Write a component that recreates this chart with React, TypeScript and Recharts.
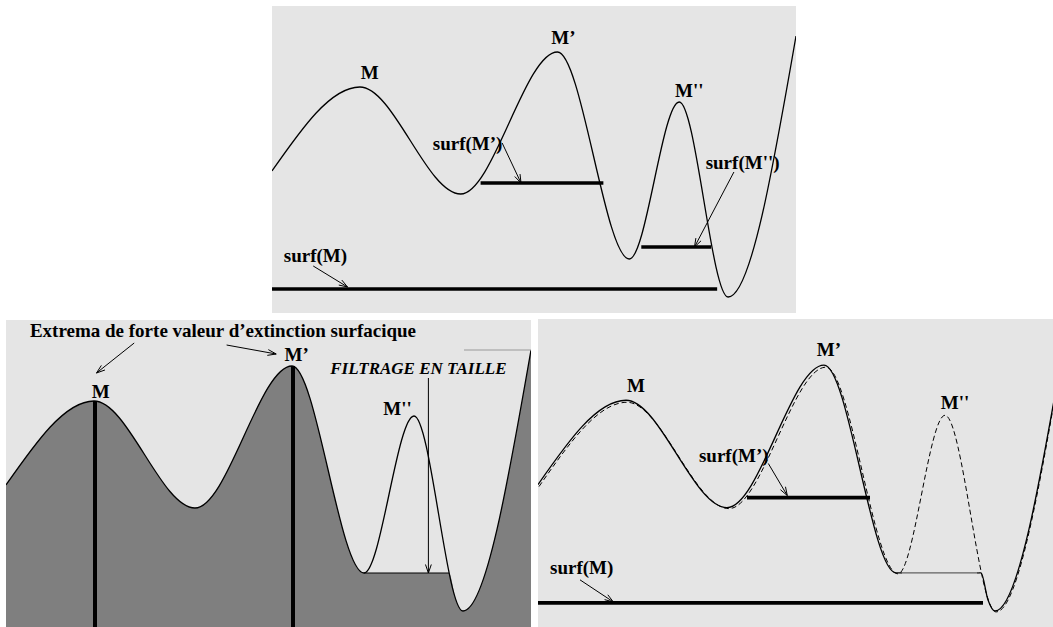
import {
  Area,
  ComposedChart,
  Line,
  ReferenceDot,
  ReferenceLine,
  XAxis,
  YAxis,
} from "recharts";

// profile: position along the line, level (0 = bottom of panel)
const crestPos = [0, 88, 189, 286, 358, 408, 457, 525];
const crestLevel = [142, 226, 119, 261, 54, 211, 16, 277];

// same profile after the size filtering: M'' is flattened at surf level
const filteredPos = [0, 88, 189, 286, 358, 443, 450, 457, 525];
const filteredLevel = [142, 226, 119, 261, 54, 54, 27, 16, 277];

// original profile as drawn dashed in the right panel
const dashedPos = [1, 89, 191, 288, 360, 407, 458, 525];
const dashedLevel = [140, 224, 118, 259, 53, 211, 15, 276];

// surfaces (thick bars) of the top panel
const surfLevel = [130, 66, 24];
const surfFrom = [209, 370, 0];
const surfTo = [332, 440, 446];

// surfaces kept in the filtered panel
const keptLevel = [129, 24];
const keptFrom = [209, 0];
const keptTo = [332, 445];

// extrema lines of the left panel
const extremaPos = [89, 287];
const extremaLevel = [226, 261];

const W = 525;
const H = 307;
const FONT = "'Liberation Serif', 'Times New Roman', serif";
const LIGHT = "#e5e5e5";
const DARK = "#7f7f7f";

const toPoints = (xs: number[], ys: number[]) =>
  xs.map((pos, i) => ({ pos, level: ys[i] }));

const crest = toPoints(crestPos, crestLevel);
const filtered = toPoints(filteredPos, filteredLevel);
const dashed = toPoints(dashedPos, dashedLevel);

function ArrowShape(props: any) {
  const { x1, y1, x2, y2 } = props;
  const a = Math.atan2(y2 - y1, x2 - x1);
  const len = 9;
  const spread = 0.33;
  const ax = x2 - len * Math.cos(a - spread);
  const ay = y2 - len * Math.sin(a - spread);
  const bx = x2 - len * Math.cos(a + spread);
  const by = y2 - len * Math.sin(a + spread);
  return (
    <g stroke="#000" strokeWidth={1} fill="none">
      <line x1={x1} y1={y1} x2={x2} y2={y2} />
      <polyline points={`${ax},${ay} ${x2},${y2} ${bx},${by}`} />
    </g>
  );
}

const arrow = (key: string, from: number[], to: number[]) => (
  <ReferenceLine
    key={key}
    segment={[
      { x: from[0], y: from[1] },
      { x: to[0], y: to[1] },
    ]}
    shape={ArrowShape}
    ifOverflow="visible"
  />
);

const bar = (key: string, level: number, from: number, to: number, width = 3.6, color = "#000") => (
  <ReferenceLine
    key={key}
    segment={[
      { x: from, y: level },
      { x: to, y: level },
    ]}
    stroke={color}
    strokeWidth={width}
    ifOverflow="visible"
  />
);

const label = (
  key: string,
  text: string,
  x: number,
  y: number,
  size = 19,
  italic = false
) => (
  <ReferenceDot
    key={key}
    x={x}
    y={y}
    r={0}
    ifOverflow="visible"
    shape={(p: any) => (
      <text
        x={p.cx}
        y={p.cy}
        textAnchor="middle"
        dominantBaseline="central"
        fontFamily={FONT}
        fontWeight="bold"
        fontStyle={italic ? "italic" : "normal"}
        fontSize={size}
        fill="#000"
      >
        {text}
      </text>
    )}
  />
);

const axes = [
  <XAxis key="x" type="number" dataKey="pos" domain={[0, W]} hide allowDataOverflow />,
  <YAxis key="y" type="number" dataKey="level" domain={[0, H]} hide allowDataOverflow />,
];

const margin = { top: 0, right: 0, bottom: 0, left: 0 };

function Panel({
  left,
  top,
  width,
  height,
  children,
}: {
  left: number;
  top: number;
  width: number;
  height: number;
  children: any;
}) {
  return (
    <div
      style={{
        position: "absolute",
        left,
        top,
        width,
        height,
        background: LIGHT,
        overflow: "hidden",
      }}
    >
      {children}
    </div>
  );
}

export default function App() {
  return (
    <div style={{ position: "absolute", left: 0, top: 0, width: 1053, height: 627, background: "#fff" }}>
      {/* top: surfaces of the extrema */}
      <Panel left={272} top={6} width={524} height={307}>
        <ComposedChart width={524} height={307} margin={margin}>
          {axes}
          <Line
            data={crest}
            dataKey="level"
            type="monotone"
            stroke="#000"
            strokeWidth={1.3}
            dot={false}
            isAnimationActive={false}
          />
          {surfLevel.map((lv, i) => bar(`s${i}`, lv, surfFrom[i], surfTo[i]))}
          {arrow("a1", [230.6, 170], [249.5, 130])}
          {arrow("a2", [462.8, 141], [423.3, 66])}
          {arrow("a3", [41.3, 47], [75.7, 26])}
          {label("l1", "M", 98, 241)}
          {label("l2", "M’", 292, 276)}
          {label("l3", "M''", 418, 223)}
          {label("l4", "surf(M’)", 196, 170)}
          {label("l5", "surf(M'')", 471.5, 151)}
          {label("l6", "surf(M)", 43.5, 58)}
        </ComposedChart>
      </Panel>

      {/* bottom left: size filtering */}
      <Panel left={6} top={320} width={525} height={307}>
        <ComposedChart width={525} height={307} margin={margin}>
          {axes}
          <Area
            data={filtered}
            dataKey="level"
            type="monotone"
            stroke="none"
            fill={DARK}
            fillOpacity={1}
            isAnimationActive={false}
          />
          <Line
            data={crest}
            dataKey="level"
            type="monotone"
            stroke="#000"
            strokeWidth={1.3}
            dot={false}
            isAnimationActive={false}
          />
          {bar("flat", 54, 358, 443, 1.1)}
          {bar("edge", 277, 458, 525, 1, "#999")}
          {extremaPos.map((x, i) => (
            <ReferenceLine
              key={`v${i}`}
              segment={[
                { x, y: 0 },
                { x, y: extremaLevel[i] },
              ]}
              stroke="#000"
              strokeWidth={4}
              ifOverflow="visible"
            />
          ))}
          {arrow("b1", [128.2, 284], [90.5, 254])}
          {arrow("b2", [220.6, 282], [270.2, 273])}
          {arrow("b3", [422.4, 249], [422.4, 54])}
          {label("k1", "Extrema de forte valeur d’extinction surfacique", 217, 297)}
          {label("k2", "M", 94.7, 236)}
          {label("k3", "M’", 290.7, 273)}
          {label("k4", "M''", 391.6, 219)}
          {label("k5", "FILTRAGE EN TAILLE", 412.4, 259, 17, true)}
        </ComposedChart>
      </Panel>

      {/* bottom right: filtered vs original */}
      <Panel left={538} top={319} width={515} height={308}>
        <ComposedChart width={525} height={308} margin={margin}>
          {axes}
          <Line
            data={filtered}
            dataKey="level"
            type="monotone"
            stroke="#000"
            strokeWidth={1.3}
            dot={false}
            isAnimationActive={false}
          />
          {bar("flatBg", 54, 364, 439, 2, LIGHT)}
          {bar("flatThin", 54, 362, 441, 1, "#555")}
          <Line
            data={dashed}
            dataKey="level"
            type="monotone"
            stroke="#000"
            strokeWidth={1}
            strokeDasharray="5 3"
            dot={false}
            isAnimationActive={false}
          />
          {keptLevel.map((lv, i) => bar(`r${i}`, lv, keptFrom[i], keptTo[i]))}
          {arrow("c1", [230.3, 163], [249.3, 131])}
          {arrow("c2", [42, 47], [75.3, 25])}
          {label("m1", "M", 98, 241)}
          {label("m2", "M’", 291, 277)}
          {label("m3", "M''", 417, 224)}
          {label("m4", "surf(M’)", 195.8, 171)}
          {label("m5", "surf(M)", 43.7, 59)}
        </ComposedChart>
      </Panel>
    </div>
  );
}
